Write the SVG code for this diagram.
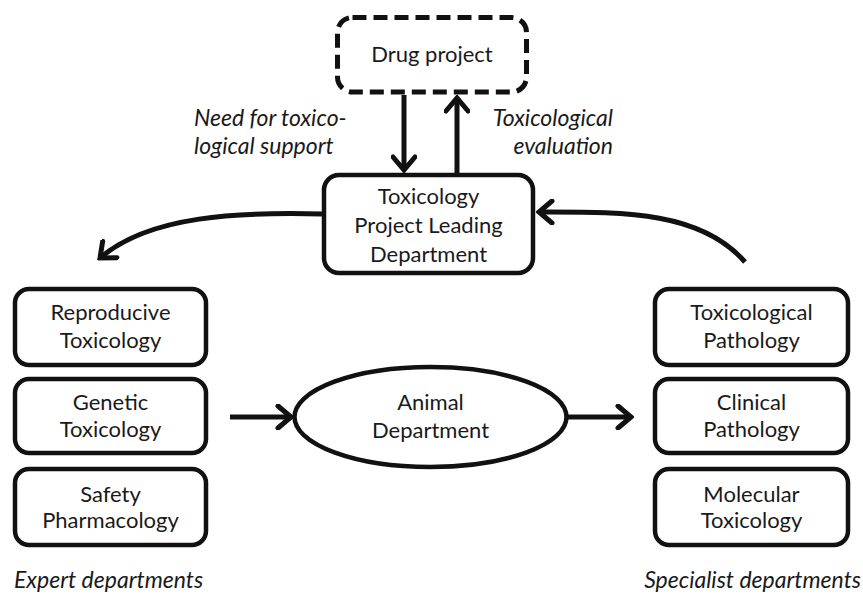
<svg xmlns="http://www.w3.org/2000/svg" width="863" height="596" viewBox="0 0 863 596">
<style>
.box{fill:#fff;stroke:#111;stroke-width:4.5}
.dash{fill:#fff;stroke:#111;stroke-width:5;stroke-dasharray:14 7}
.t{font-family:Lato,"Liberation Sans",sans-serif;font-size:22px;fill:#1a1a1a;text-anchor:middle}
.i{font-family:Lato,"Liberation Sans",sans-serif;font-size:23px;fill:#1a1a1a;font-style:italic}
.c{fill:none;stroke:#111;stroke-width:5}
</style>
<defs>
<marker id="ah" viewBox="0 0 20 26" refX="17" refY="13" markerWidth="20" markerHeight="26" markerUnits="userSpaceOnUse" orient="auto">
<path d="M4,2 L17,13 L4,24" fill="none" stroke="#111" stroke-width="5" stroke-linecap="round" stroke-linejoin="miter"/>
</marker>
</defs>
<g id="connectors">
<path class="c" d="M404,95 L404,170" marker-end="url(#ah)"/>
<path class="c" d="M457,173 L457,98" marker-end="url(#ah)"/>
<path class="c" d="M322,214 C240,212 150,215 100,258" marker-end="url(#ah)"/>
<path class="c" d="M745,262 C700,210 620,212 539,212" marker-end="url(#ah)"/>
<path class="c" d="M230,417 L291,417" marker-end="url(#ah)"/>
<path class="c" d="M568,417 L631,417" marker-end="url(#ah)"/>
</g>
<g id="drug-project">
<rect class="dash" x="337.5" y="17.5" width="189" height="74.5" rx="15"/>
<text class="t" x="432" y="62">Drug project</text>
</g>
<g id="tox-lead">
<rect class="box" x="324" y="175" width="209" height="98" rx="15"/>
<text class="t" x="428.5" y="204">Toxicology</text>
<text class="t" x="428.5" y="233">Project Leading</text>
<text class="t" x="428.5" y="262">Department</text>
</g>
<g id="labels">
<text class="i" x="194" y="126">Need for toxico-</text>
<text class="i" x="194" y="154">logical support</text>
<text class="i" x="613" y="126" text-anchor="end">Toxicological</text>
<text class="i" x="613" y="154" text-anchor="end">evaluation</text>
<text class="i" x="14" y="588">Expert departments</text>
<text class="i" x="861" y="588" text-anchor="end">Specialist departments</text>
</g>
<g id="reproductive">
<rect class="box" x="15" y="289" width="191" height="76" rx="14"/>
<text class="t" x="110.5" y="320">Reproducive</text>
<text class="t" x="110.5" y="348">Toxicology</text>
</g>
<g id="genetic">
<rect class="box" x="15" y="379" width="191" height="74" rx="14"/>
<text class="t" x="110.5" y="410">Genetic</text>
<text class="t" x="110.5" y="437">Toxicology</text>
</g>
<g id="safety">
<rect class="box" x="15" y="469" width="191" height="76" rx="14"/>
<text class="t" x="110.5" y="502">Safety</text>
<text class="t" x="110.5" y="528">Pharmacology</text>
</g>
<g id="animal">
<ellipse class="box" cx="430.5" cy="417" rx="136" ry="50"/>
<text class="t" x="430.5" y="410">Animal</text>
<text class="t" x="430.5" y="438">Department</text>
</g>
<g id="tox-path">
<rect class="box" x="655" y="289" width="193" height="76" rx="14"/>
<text class="t" x="751.5" y="320">Toxicological</text>
<text class="t" x="751.5" y="348">Pathology</text>
</g>
<g id="clin-path">
<rect class="box" x="655" y="379" width="193" height="74" rx="14"/>
<text class="t" x="751.5" y="410">Clinical</text>
<text class="t" x="751.5" y="437">Pathology</text>
</g>
<g id="mol-tox">
<rect class="box" x="655" y="469" width="193" height="76" rx="14"/>
<text class="t" x="751.5" y="502">Molecular</text>
<text class="t" x="751.5" y="528">Toxicology</text>
</g>
</svg>
